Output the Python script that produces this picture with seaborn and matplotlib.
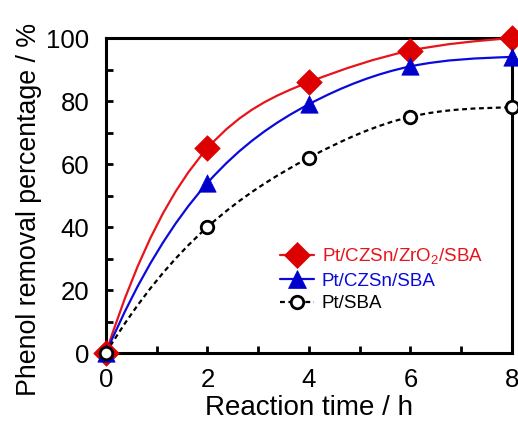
import numpy as np
import pandas as pd
import matplotlib
matplotlib.use("Agg")
import matplotlib.pyplot as plt
from matplotlib.path import Path
from matplotlib.patches import PathPatch
from matplotlib.lines import Line2D
from matplotlib.ticker import MultipleLocator
import seaborn as sns

# Reaction time (h) and phenol removal (%) for each catalyst
time_h = [0, 2, 4, 6, 8]
removal_zr = [0, 65, 86, 96, 100]
removal_czsn = [0, 54, 79, 91, 94]
removal_pt = [0, 40, 62, 75, 78]

labels = ["Pt/CZSn/ZrO$_\\mathregular{2}$/SBA", "Pt/CZSn/SBA", "Pt/SBA"]
colors = ["#e8141c", "#0a0adc", "#000000"]
marker_colors = ["#dd0000", "#0000cc", "#000000"]

sns.set_theme(style="ticks")
plt.rcParams["font.family"] = ["Liberation Sans", "DejaVu Sans"]
plt.rcParams["mathtext.fontset"] = "custom"
plt.rcParams["mathtext.rm"] = "Liberation Sans"

fig = plt.figure(figsize=(5.18, 4.21), dpi=100)
ax = fig.add_axes([0.2046, 0.1615, 0.7838, 0.7482])

df = pd.DataFrame({
    "time": time_h * 3,
    "removal": removal_zr + removal_czsn + removal_pt,
    "catalyst": [labels[0]] * 5 + [labels[1]] * 5 + [labels[2]] * 5,
})


def spline_path(x, y):
    """Cubic spline through the points (not-a-knot start, natural end),
    written as Bezier segments."""
    x = np.asarray(x, float)
    y = np.asarray(y, float)
    n = len(x) - 1
    A = np.zeros((4 * n, 4 * n))
    rhs = np.zeros(4 * n)
    row = 0
    # coefficients per interval: a + b t + c t^2 + d t^3, t = x - x_i
    for i in range(n):
        h = x[i + 1] - x[i]
        A[row, 4 * i] = 1
        rhs[row] = y[i]
        row += 1
        A[row, 4 * i:4 * i + 4] = [1, h, h ** 2, h ** 3]
        rhs[row] = y[i + 1]
        row += 1
    for i in range(n - 1):
        h = x[i + 1] - x[i]
        A[row, 4 * i:4 * i + 4] = [0, 1, 2 * h, 3 * h ** 2]
        A[row, 4 * (i + 1) + 1] = -1
        row += 1
        A[row, 4 * i:4 * i + 4] = [0, 0, 2, 6 * h]
        A[row, 4 * (i + 1) + 2] = -2
        row += 1
    A[row, 3] = 1
    A[row, 7] = -1
    row += 1
    h_last = x[-1] - x[-2]
    A[row, 4 * (n - 1):4 * n] = [0, 0, 2, 6 * h_last]
    coef = np.linalg.solve(A, rhs).reshape(n, 4)

    verts = [(x[0], y[0])]
    codes = [Path.MOVETO]
    for i in range(n):
        h = x[i + 1] - x[i]
        a, b, c, d = coef[i]
        m0 = b
        m1 = b + 2 * c * h + 3 * d * h ** 2
        verts += [(x[i] + h / 3, y[i] + h * m0 / 3),
                  (x[i + 1] - h / 3, y[i + 1] - h * m1 / 3),
                  (x[i + 1], y[i + 1])]
        codes += [Path.CURVE4] * 3
    return Path(verts, codes)


styles = [
    dict(marker="D", ms=13, ls="-", mfc=marker_colors[0], mec=marker_colors[0]),
    dict(marker="^", ms=12.5, ls="-", mfc=marker_colors[1], mec=marker_colors[1]),
    dict(marker="o", ms=9, ls=(0, (2.2, 1.6)), mfc="white", mec="black"),
]

series = [removal_zr, removal_czsn, removal_pt]
# smooth connecting curves
for vals, col, st in zip(series, colors, styles):
    patch = PathPatch(spline_path(time_h, vals), facecolor="none", edgecolor=col,
                      lw=1.6, linestyle=st["ls"], transform=ax.transData,
                      clip_on=False, zorder=2)
    ax.add_patch(patch)

# data markers
for lab, st in zip(labels, styles):
    sub = df[df["catalyst"] == lab]
    sns.scatterplot(data=sub, x="time", y="removal", ax=ax, marker=st["marker"],
                    s=st["ms"] ** 2, color=st["mfc"], edgecolor=st["mec"],
                    linewidth=2 if st["marker"] == "o" else 0.5,
                    clip_on=False, zorder=3, legend=False)

ax.set_xlim(0, 8)
ax.set_ylim(0, 100)
ax.xaxis.set_major_locator(MultipleLocator(2))
ax.xaxis.set_minor_locator(MultipleLocator(1))
ax.yaxis.set_major_locator(MultipleLocator(20))
ax.yaxis.set_minor_locator(MultipleLocator(10))
ax.tick_params(axis="both", which="both", direction="in", width=2, color="black",
               labelsize=18.5, labelcolor="black", length=5)
ax.tick_params(axis="x", pad=11)
ax.tick_params(axis="y", pad=12)
for sp in ax.spines.values():
    sp.set_linewidth(2.2)
    sp.set_color("black")
    sp.set_zorder(1)

ax.set_xlabel("Reaction time / h", fontsize=20, color="black", labelpad=2)
ax.set_ylabel("Phenol removal percentage / %", fontsize=19.3, color="black")
ax.yaxis.set_label_coords(-0.157, 0.457)

handles = []
for col, st in zip(colors, styles):
    handles.append(Line2D([], [], color=col, lw=1.6, linestyle=st["ls"],
                          marker=st["marker"], ms=st["ms"], mfc=st["mfc"],
                          mec=st["mec"], mew=2 if st["marker"] == "o" else 0.5))
leg = ax.legend(handles, labels, loc="upper left", bbox_to_anchor=(0.42, 0.35),
                frameon=False, fontsize=13.5, handlelength=1.8, handletextpad=0.4,
                labelspacing=0.3, borderpad=0.2, borderaxespad=0)
for txt, col in zip(leg.get_texts(), colors):
    txt.set_color(col)

fig.savefig("out.png", dpi=100, facecolor="white")
